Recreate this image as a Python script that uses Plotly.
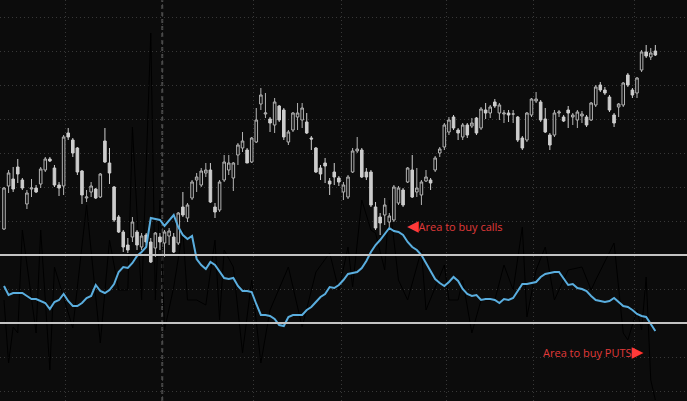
import plotly.graph_objects as go

# --- data ---
# candle index 0..142, prices in chart units
opens = [171, 214, 221, 233, 220, 196, 211, 212, 216, 230, 241, 232, 215, 214, 267, 260, 252, 229, 202, 208,
         211, 203, 259, 237, 213, 183, 168, 155, 163, 168, 153, 165, 158, 152, 163, 157, 164, 163, 157, 193,
         182, 202, 220, 215, 227, 230, 193, 190, 220, 230, 222, 245, 252, 250, 238, 258, 296, 286, 281, 275,
         294, 290, 258, 270, 283, 280, 278, 262, 252, 232, 237, 219, 228, 222, 208, 203, 228, 249, 250, 228,
         228, 193, 183, 185, 178, 180, 197, 210, 218, 230, 208, 205, 219, 220, 230, 247, 253, 268, 283, 270,
         263, 275, 274, 282, 272, 290, 287, 298, 287, 286, 287, 286, 283, 262, 260, 285, 299, 298, 281, 265,
         265, 287, 283, 290, 283, 280, 284, 283, 280, 295, 315, 310, 303, 285, 293, 295, 325, 310, 307, 330,
         348, 343, 349]
highs = [213, 230, 233, 241, 222, 210, 221, 215, 233, 243, 243, 235, 218, 265, 272, 262, 253, 230, 210, 218,
         212, 227, 272, 252, 214, 185, 170, 162, 183, 170, 167, 167, 162, 168, 167, 170, 172, 167, 188, 208,
         197, 220, 227, 232, 237, 237, 197, 220, 245, 245, 238, 257, 268, 252, 263, 292, 312, 307, 283, 302,
         295, 292, 270, 288, 297, 297, 287, 264, 253, 235, 242, 222, 237, 224, 218, 225, 252, 263, 252, 232,
         230, 198, 187, 202, 187, 215, 214, 212, 233, 245, 232, 220, 230, 222, 244, 253, 277, 283, 285, 272,
         277, 277, 282, 283, 293, 297, 295, 301, 297, 290, 290, 290, 284, 264, 288, 302, 308, 300, 292, 267,
         290, 290, 285, 294, 287, 290, 289, 285, 298, 315, 318, 313, 305, 287, 297, 318, 327, 312, 323, 350,
         355, 352, 355]
lows = [170, 207, 208, 217, 210, 191, 203, 207, 212, 228, 238, 213, 204, 205, 260, 243, 225, 196, 198, 203,
        201, 202, 237, 216, 178, 167, 148, 147, 158, 150, 150, 155, 137, 143, 150, 143, 155, 147, 155, 183,
        178, 200, 208, 213, 223, 197, 182, 188, 218, 225, 209, 235, 248, 237, 237, 257, 290, 282, 268, 267,
        278, 260, 255, 268, 270, 272, 266, 250, 227, 220, 217, 205, 215, 214, 200, 201, 227, 247, 222, 220,
        193, 170, 165, 175, 173, 178, 195, 193, 217, 202, 203, 195, 218, 210, 228, 243, 250, 265, 270, 260,
        260, 262, 272, 265, 270, 281, 282, 292, 280, 277, 278, 277, 258, 250, 258, 283, 297, 278, 267, 250,
        263, 283, 278, 272, 275, 272, 277, 273, 279, 293, 308, 305, 288, 273, 283, 293, 313, 302, 302, 328,
        342, 340, 344]
closes = [212, 227, 211, 226, 212, 207, 212, 208, 231, 241, 239, 215, 212, 263, 263, 247, 228, 205, 203, 214,
          202, 226, 238, 227, 180, 168, 153, 150, 178, 155, 164, 158, 138, 167, 158, 168, 169, 148, 187, 185,
          195, 218, 223, 229, 230, 198, 188, 218, 238, 237, 237, 255, 259, 237, 262, 280, 305, 287, 277, 298,
          280, 263, 268, 287, 287, 292, 267, 261, 228, 226, 234, 216, 223, 218, 215, 223, 249, 251, 223, 223,
          195, 172, 177, 195, 184, 213, 212, 195, 232, 203, 212, 218, 223, 217, 242, 251, 275, 280, 272, 267,
          275, 265, 277, 267, 291, 287, 293, 294, 295, 287, 285, 286, 260, 252, 287, 301, 301, 280, 268, 255,
          287, 288, 279, 287, 285, 288, 286, 275, 297, 313, 310, 307, 290, 277, 296, 317, 315, 305, 322, 348,
          344, 347, 345]

# oscillator (blue) and its +/- bands
oscillator = [3, -6, -4, -4, -4, -7, -10, -10, -12, -14, -20, -13, -11, -5, -12, -17, -17, -14, -9, -7,
              4, -2, -4, -1, 5, 17, 22, 21, 26, 33, 37, 42, 71, 70, 69, 63, 68, 74, 62, 54,
              50, 53, 30, 24, 20, 27, 24, 17, 11, 10, 11, 3, -2, -2, -3, -15, -26, -26, -27, -30,
              -36, -37, -28, -26, -26, -26, -21, -18, -13, -8, -5, 2, 1, 4, 9, 15, 16, 17, 21, 28,
              37, 44, 49, 55, 61, 58, 57, 54, 47, 42, 39, 34, 26, 17, 10, 6, 3, 7, 12, 8,
              0, -5, -7, -6, -11, -10, -10, -11, -14, -10, -11, -9, -2, 5, 5, 6, 7, 12, 15, 16,
              17, 17, 10, 4, 5, 1, 0, -2, -7, -11, -12, -13, -12, -9, -13, -17, -18, -21, -25, -27,
              -28, -35, -42]
band_upper = 34
band_lower = -34

# faint black momentum line (only the turning points could be read)
mom_idx = [0, 1, 2, 3, 4, 7, 8, 10, 11, 15, 18, 21, 23, 25, 27, 28, 30, 32, 33, 34,
           35, 37, 39, 40, 42, 44, 46, 47, 48, 50, 52, 54, 56, 58, 62, 65, 68, 71, 73, 75,
           76, 78, 80, 81, 83, 84, 86, 88, 91, 92, 96, 97, 99, 100, 102, 104, 107, 109, 111, 113,
           114, 116, 118, 120, 123, 126, 128, 129, 133, 135, 136, 138, 139, 140, 141, 142]
momentum = [-11, -74, -38, -44, 59, -44, 59, -81, 22, -39, 84, -54, 49, -1, -1, 162, -11, 256, -11, 89,
            -41, 2, 59, -11, -11, -16, 49, -31, 39, 22, -64, 9, -74, -21, 22, -38, 17, 36, -1, 42,
            2, 89, 59, 56, 19, 89, 9, -11, 39, -21, 24, -11, -11, 9, -44, -11, -11, 24, -1, 62,
            -28, 19, 42, -11, 19, 22, -1, 9, 46, -44, -51, -21, -41, 12, -91, -111]

month_starts = [13.5, 34.5, 54.5, 73.5, 96.5, 115.5, 137.5]
event_idx = 34.5

idx = list(range(len(opens)))

BG = "#0c0c0c"
GRID = "#383838"

fig = go.Figure()

fig.add_trace(go.Scatter(x=mom_idx, y=momentum, mode="lines", yaxis="y",
                         line=dict(color="#000000", width=1), hoverinfo="skip"))

fig.add_trace(go.Candlestick(
    x=idx, open=opens, high=highs, low=lows, close=closes, yaxis="y2",
    increasing=dict(line=dict(color="#b4b4b4", width=1), fillcolor=BG),
    decreasing=dict(line=dict(color="#cdcdcd", width=1), fillcolor="#cdcdcd"),
    whiskerwidth=0,
))

fig.add_trace(go.Scatter(x=idx, y=oscillator, mode="lines", yaxis="y3",
                         line=dict(color="#5aaedf", width=2)))

# bands
for lvl in (band_upper, band_lower):
    fig.add_shape(type="line", xref="paper", x0=0, x1=1, yref="y", y0=lvl, y1=lvl,
                  line=dict(color="#c4c4c4", width=2), layer="above")

# dashed event marker
fig.add_shape(type="line", xref="x", x0=event_idx, x1=event_idx, yref="paper", y0=0, y1=1,
              line=dict(color="#4a4a4a", width=2, dash="4px,3px"), layer="below")

tri = '<span style="font-family:DejaVu Sans;font-size:15px;color:#ff3a3a">{}</span>'
fig.add_annotation(xref="paper", yref="paper", x=0.589, y=0.436, xanchor="left", yanchor="middle",
                   text=tri.format("◀") + "Area to buy calls", showarrow=False,
                   font=dict(family="Open Sans", size=11, color="#e03a3a"))
fig.add_annotation(xref="paper", yref="paper", x=0.787, y=0.122, xanchor="left", yanchor="middle",
                   text="Area to buy PUTS" + tri.format("▶"), showarrow=False,
                   font=dict(family="Open Sans", size=11, color="#e03a3a"))

fig.update_layout(
    width=687, height=401,
    margin=dict(l=0, r=0, t=0, b=0),
    paper_bgcolor=BG, plot_bgcolor=BG,
    showlegend=False,
    boxgap=0.2,
    xaxis=dict(range=[-0.87, 148.9], tickvals=month_starts, showticklabels=False,
               showgrid=True, gridcolor=GRID, griddash="1px,3px", zeroline=False,
               rangeslider=dict(visible=False)),
    yaxis=dict(range=[-112, 289], tick0=0, dtick=34, showticklabels=False,
               showgrid=True, gridcolor=GRID, griddash="1px,3px", zeroline=False,
               showline=True, linecolor="#3a3a3a", linewidth=2),
    yaxis2=dict(range=[-1, 400], overlaying="y", visible=False),
    yaxis3=dict(range=[-112, 289], overlaying="y", visible=False),
)

fig.write_html("out.html", config={"displayModeBar": False},
               post_script="document.body.style.margin='0';")
